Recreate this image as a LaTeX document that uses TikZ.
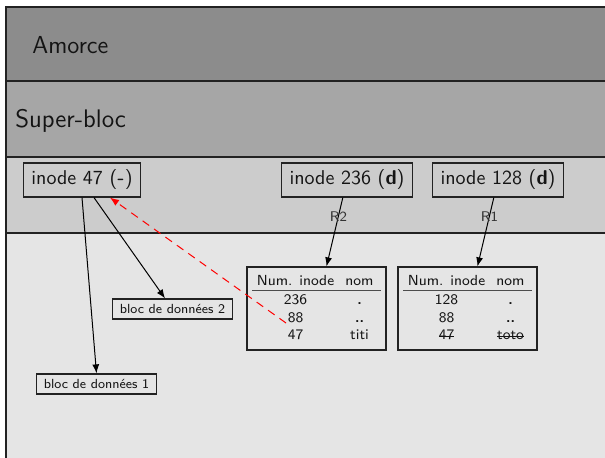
\documentclass[tikz,border=0pt]{standalone}
\usepackage{fontspec}
\renewcommand\familydefault{\sfdefault}
\usetikzlibrary{arrows.meta}
\definecolor{bandA}{HTML}{8C8C8C}
\definecolor{bandB}{HTML}{A6A6A6}
\definecolor{bandC}{HTML}{CCCCCC}
\definecolor{bandD}{HTML}{E5E5E5}
\definecolor{edgegray}{HTML}{222222}
\newcommand\mystrike[1]{\leavevmode\setbox0=\hbox{#1}\rlap{\copy0}\rule[0.23em]{\wd0}{0.4pt}}
\tikzset{
  band/.style={draw=edgegray, line width=0.65pt},
  bandtext/.style={anchor=base west, inner sep=0pt, text=black!92},
  inodebox/.style={draw=edgegray, line width=0.6pt, minimum height=17pt, inner xsep=4pt, inner ysep=0pt, text=black!92},
  blocbox/.style={draw=edgegray, line width=0.6pt, minimum height=10pt, inner xsep=3.5pt, inner ysep=0pt, font=\sffamily\fontsize{6.6}{7}\selectfont, text=black!92},
  tablebox/.style={draw=edgegray, line width=0.6pt, minimum width=69.5pt, minimum height=41.5pt, inner sep=0pt},
  cell/.style={anchor=base, inner sep=0pt, font=\sffamily\fontsize{7.3}{8}\selectfont, text=black!92},
  conn/.style={draw=black, line width=0.5pt, -{Latex[length=4.5pt,width=3.5pt]}},
  lbl/.style={font=\sffamily\fontsize{7}{8}\selectfont, text=black!80, inner sep=0pt},
  refarrow/.style={draw=red, line width=0.5pt, dash pattern=on 4pt off 3pt, -{Latex[length=4.5pt,width=3.5pt]}},
  tablerule/.style={draw=black!70, line width=0.5pt}
}
\begin{document}
\begin{tikzpicture}[x=0.5pt,y=-0.5pt, font=\sffamily]
\useasboundingbox (0,0) rectangle (605,458);
\clip (0,0) rectangle (605,458);
\fill[white] (0,0) rectangle (605,458);
% bands
\draw[band, fill=bandA] (6,7) rectangle (650,81);
\draw[band, fill=bandB] (6,81) rectangle (650,157);
\draw[band, fill=bandC] (6,157) rectangle (650,233);
\draw[band, fill=bandD] (6,233) rectangle (650,490);
\node[bandtext, font=\sffamily\fontsize{12.3}{14}\selectfont] (amorce) at (32,54) {Amorce};
\node[bandtext, font=\sffamily\fontsize{12.7}{14}\selectfont] (superbloc) at (15,128) {Super-bloc};
% inodes
\node[inodebox] (i47) at (82,180) {inode 47 (\textbf{-})};
\node[inodebox] (i236) at (347,180) {inode 236 (\textbf{d})};
\node[inodebox] (i128) at (498,180) {inode 128 (\textbf{d})};
% data blocks
\node[blocbox] (b2) at (172.5,309) {bloc de données 2};
\node[blocbox] (b1) at (96.5,384) {bloc de données 1};
% table 1
\node[tablebox] (t1) at (316.5,308.5) {};
\node[cell] (t1h1) at (295.5,286) {Num. inode};
\node[cell] (t1h2) at (359.5,286) {nom};
\draw[tablerule] (252,291) -- (381,291);
\node[cell] (t1a1) at (295.5,305) {236};
\node[cell] (t1a2) at (359.5,305) {\textbf{.}};
\node[cell] (t1b1) at (295.5,323) {88};
\node[cell] (t1b2) at (359.5,323) {\textbf{..}};
\node[cell] (t1c1) at (295.5,340) {47};
\node[cell] (t1c2) at (359.5,340) {titi};
% table 2
\node[tablebox] (t2) at (467.5,308.5) {};
\node[cell] (t2h1) at (446.5,286) {Num. inode};
\node[cell] (t2h2) at (510.5,286) {nom};
\draw[tablerule] (403,291) -- (532,291);
\node[cell] (t2a1) at (446.5,305) {128};
\node[cell] (t2a2) at (510.5,305) {\textbf{.}};
\node[cell] (t2b1) at (446.5,323) {88};
\node[cell] (t2b2) at (510.5,323) {\textbf{..}};
\node[cell] (t2c1) at (446.5,340) {\mystrike{47}};
\node[cell] (t2c2) at (510.5,340) {\mystrike{toto}};
% connectors
\draw[conn] (i47.south) -- (b1.north);
\draw[conn] ([xshift=6pt]i47.south) -- (b2);
\draw[conn] (i236) -- node[lbl, pos=0.27] {R2} (t1);
\draw[conn] (i128) -- node[lbl, pos=0.27] {R1} (t2);
\coordinate (r88) at (286,323);
\draw[refarrow] (r88) -- ([xshift=14pt]i47.south);
\end{tikzpicture}
\end{document}
